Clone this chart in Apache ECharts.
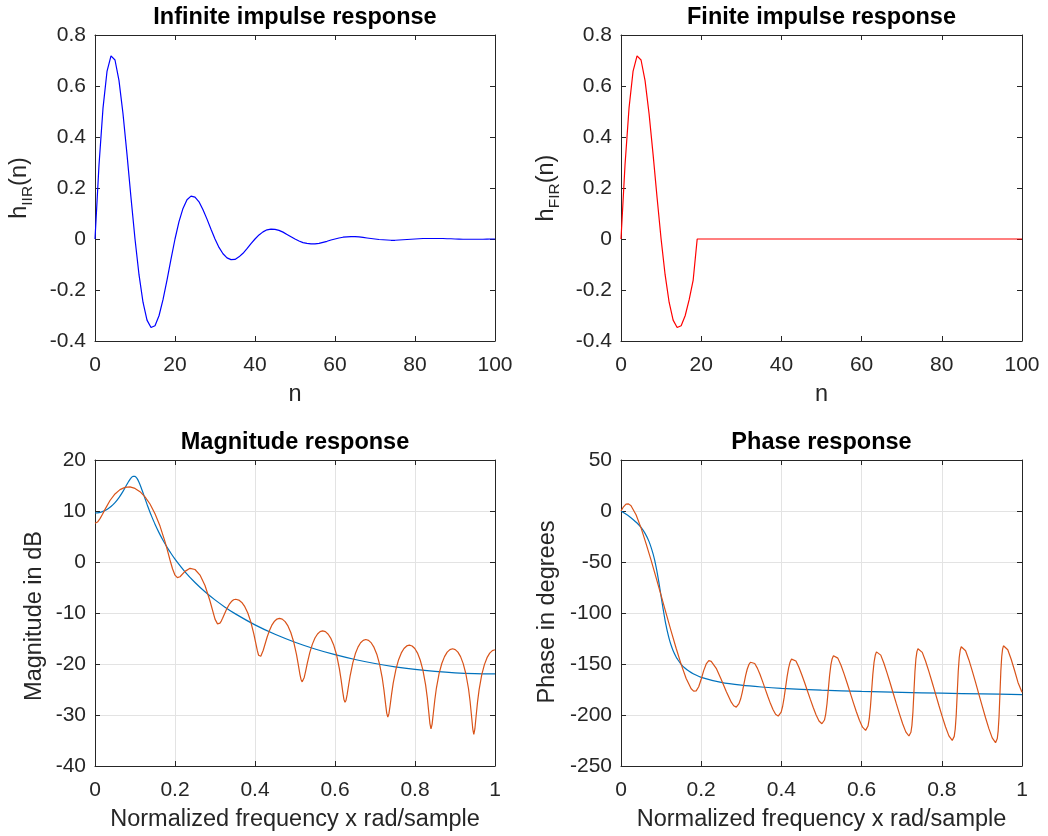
<!DOCTYPE html>
<html><head><meta charset="utf-8">
<script src="https://cdn.jsdelivr.net/npm/echarts@6/dist/echarts.min.js"></script>
<style>html,body{margin:0;padding:0;background:#fff}#c{width:1048px;height:836px}</style>
</head><body><div id="c"></div>
<script>
// ---- data ----
const hIIR = [0,0.290,0.513,0.657,0.718,0.702,0.621,0.491,0.332,0.162,
0,-0.140,-0.248,-0.318,-0.347,-0.340,-0.301,-0.238,-0.161,-0.079,
0,0.068,0.120,0.154,0.168,0.164,0.146,0.115,0.078,0.038,
0,-0.033,-0.058,-0.074,-0.081,-0.080,-0.070,-0.056,-0.038,-0.018,
0,0.016,0.028,0.036,0.039,0.038,0.034,0.027,0.018,0.009,
0,-0.008,-0.014,-0.017,-0.019,-0.019,-0.017,-0.013,-0.009,-0.004,
0,0.004,0.007,0.008,0.009,0.009,0.008,0.006,0.004,0.002,
0,-0.002,-0.003,-0.004,-0.005,-0.005,-0.004,-0.003,-0.002,-0.001,
0,0.001,0.002,0.002,0.002,0.002,0.002,0.002,0.001,0.001,
0,-0.0005,-0.001,-0.001,-0.001,-0.001,-0.001,-0.001,-0.0005,0,0];
const hFIR = [0,0.290,0.513,0.657,0.718,0.702,0.621,0.491,0.332,0.162,
0,-0.140,-0.248,-0.318,-0.347,-0.340,-0.301,-0.238,-0.161,0,
0,0,0,0,0,0,0,0,0,0, 0,0,0,0,0,0,0,0,0,0, 0,0,0,0,0,0,0,0,0,0,
0,0,0,0,0,0,0,0,0,0, 0,0,0,0,0,0,0,0,0,0, 0,0,0,0,0,0,0,0,0,0,
0,0,0,0,0,0,0,0,0,0, 0,0,0,0,0,0,0,0,0,0, 0];

const magIIRx = [0,.01,.02,.03,.04,.05,.06,.07,.08,.085,.09,.095,.1,.105,.11,.115,.12,.125,.13,.1375,.14,.15,.16,.17,.18,.1875,.2,.225,.25,.275,.3,.325,.35,.4,.45,.5,.55,.6,.65,.7,.75,.8,.85,.9,.95,1];
const magIIRy = [9.61,9.69,9.92,10.31,10.88,11.64,12.62,13.84,15.23,15.90,16.46,16.80,16.78,16.38,15.63,14.66,13.57,12.44,11.34,9.77,9.26,7.41,5.76,4.26,2.92,1.99,0.56,-1.92,-4.01,-5.83,-7.43,-8.85,-10.12,-12.33,-14.18,-15.73,-17.05,-18.17,-19.11,-19.90,-20.55,-21.06,-21.45,-21.74,-21.90,-21.95];

const magFIRx = [0,.00625,.0125,.01875,.025,.0375,.05,.0625,.075,.0875,.1,.1125,.125,.1375,.15,.1625,.175,.18125,.1875,.19375,.2,.206,.2125,.225,.2375,.25,.2625,.275,.2875,.3,.30625,.308,
.3102,.3124,.3157,.319,.3245,.330,.3355,.341,.3465,.352,
.3595,.367,.3745,.382,.3895,.397,.4015,.406,.409,.412,
.4145,.4169,.4206,.4243,.4304,.4365,.4426,.4488,.4549,.461,
.4681,.4753,.4824,.4895,.4966,.5038,.508,.5123,.5152,.518,
.5206,.5231,.5269,.5308,.5371,.5435,.5499,.5563,.5626,.569,
.576,.583,.59,.597,.604,.611,.6152,.6194,.6222,.625,
.6276,.6302,.6341,.638,.6445,.651,.6575,.664,.6705,.677,
.6839,.6908,.6976,.7045,.7114,.7183,.7224,.7265,.7293,.732,
.7347,.7374,.7415,.7455,.7523,.759,.7658,.7725,.7793,.786,
.7928,.7995,.8063,.813,.8198,.8265,.8306,.8346,.8373,.840,
.8427,.8454,.8495,.8535,.8603,.867,.8738,.8805,.8873,.894,
.9006,.9073,.9139,.9205,.9271,.9338,.9377,.9417,.9444,.947,
.9497,.9523,.9563,.9603,.9669,.9735,.9801,.9868,.9934,1];
const magFIRy = [7.59,7.83,8.51,9.37,10.32,12.06,13.34,14.19,14.64,14.72,14.43,13.79,12.78,11.37,9.47,7.04,4.00,2.22,0.39,-1.33,-2.58,-3.07,-2.89,-1.84,-1.24,-1.47,-2.56,-4.60,-7.65,-11.2,-12.13,-12.2,
-12.14,-11.98,-11.58,-11.04,-10.04,-9.09,-8.32,-7.75,-7.41,-7.3,
-7.46,-7.93,-8.76,-10.0,-11.74,-14.08,-15.77,-17.44,-18.28,-18.6,
-18.48,-18.13,-17.31,-16.33,-14.71,-13.36,-12.32,-11.61,-11.19,-11.05,
-11.21,-11.7,-12.54,-13.82,-15.63,-18.15,-20.03,-22.02,-23.08,-23.5,
-23.27,-22.64,-21.29,-19.85,-17.73,-16.1,-14.91,-14.11,-13.65,-13.5,
-13.66,-14.16,-15.03,-16.34,-18.23,-20.94,-23.06,-25.48,-26.9,-27.5,
-27.09,-26.07,-24.12,-22.26,-19.77,-17.96,-16.69,-15.84,-15.36,-15.2,
-15.36,-15.87,-16.75,-18.08,-20.02,-22.84,-25.13,-27.88,-29.62,-30.4,
-29.78,-28.35,-25.9,-23.76,-21.04,-19.15,-17.83,-16.96,-16.46,-16.3,
-16.47,-16.97,-17.86,-19.21,-21.19,-24.1,-26.53,-29.59,-31.69,-32.7,
-31.83,-29.95,-27.06,-24.71,-21.85,-19.9,-18.55,-17.67,-17.17,-17.0,
-17.17,-17.67,-18.56,-19.92,-21.91,-24.85,-27.31,-30.48,-32.7,-33.8,
-32.74,-30.59,-27.47,-25.02,-22.1,-20.12,-18.76,-17.87,-17.37,-17.2];

const phIIRx = [0,.01,.02,.03,.04,.05,.06,.07,.08,.085,.0875,.09,.095,.1,.105,.11,.1125,.115,.12,.125,.13,.1375,.14,.15,.16,.17,.18,.2,.25,.3,.35,.4,.5,.6,.7,.8,.9,1];
const phIIRy = [0,-2.55,-5.25,-8.27,-11.79,-16.13,-21.93,-30.02,-41.97,-50.07,-54.74,-59.86,-71.24,-83.63,-96.01,-107.38,-112.46,-117.11,-125.16,-131.68,-136.95,-143.12,-144.81,-150.26,-154.21,-157.22,-159.58,-163.05,-168.01,-170.77,-172.56,-173.86,-175.63,-176.86,-177.81,-178.61,-179.32,-180];

const phFIRx = [0,.00625,.0125,.01875,.025,.0375,.05,.0625,.075,.0875,.1,.1125,.125,.1375,.15,.1625,.175,.18125,.1875,.19375,.2,.206,.2125,
.219,.225,.2375,.25,.2625,.275,.281,.2875,
.2901,.2942,.2983,.3024,.3065,.3106,.3147,.3188,.3229,.327,
.3335,.340,.3465,.353,.3595,.366,.3725,.379,.3855,.392,
.3957,.3994,.4031,.4068,.4105,.4142,.4179,.4216,.4253,.429,
.4362,.4434,.4506,.4578,.465,.4722,.4794,.4866,.4938,.501,
.5042,.5074,.5106,.5138,.517,.5202,.5234,.5266,.5298,.533,
.5407,.5484,.5561,.5638,.5715,.5792,.5869,.5946,.6023,.610,
.613,.616,.619,.622,.625,.628,.631,.634,.637,.640,
.6478,.6556,.6634,.6712,.679,.6868,.6946,.7024,.7102,.718,
.7205,.723,.7255,.728,.7305,.733,.7355,.738,.7405,.743,
.7513,.7596,.7679,.7762,.7845,.7928,.8011,.8094,.8177,.826,
.8285,.831,.8335,.836,.8385,.841,.8435,.846,.8485,.851,
.8593,.8676,.8759,.8842,.8925,.9008,.9091,.9174,.9257,.934,
.9362,.9384,.9406,.9428,.945,.9472,.9494,.9516,.9538,.956,
.9645,.973,.9815,.99,1];
const phFIRy = [0,4.11,6.72,7.01,5.09,-3.72,-16.54,-31.97,-48.15,-65.31,-82.79,-100.34,-117.72,-134.56,-150.33,-164.22,-174.3,-176.65,-176.33,-172.26,-165.0,-156.77,-149.96,
-146.7,-147.37,-154.22,-165.11,-177.01,-187.41,-190.9,-192.25,
-191.19,-188.82,-184.37,-177.79,-169.75,-161.71,-155.13,-150.68,-148.31,-147.6,
-149.48,-154.03,-160.12,-167.04,-174.35,-181.66,-188.58,-194.67,-199.22,-201.1,
-200.19,-197.15,-191.44,-183.01,-172.7,-162.39,-153.96,-148.25,-145.21,-144.3,
-147.03,-152.92,-160.22,-168.19,-176.45,-184.71,-192.68,-199.98,-205.87,-208.6,
-207.82,-204.92,-198.88,-188.69,-174.85,-161.01,-150.82,-144.78,-141.88,-141.1,
-144.24,-151.02,-159.43,-168.6,-178.1,-187.6,-196.77,-205.18,-211.96,-215.1,
-214.2,-210.85,-203.88,-192.12,-176.15,-160.18,-148.42,-141.45,-138.1,-137.2,
-141.28,-149.26,-158.66,-168.66,-178.9,-189.14,-199.14,-208.54,-216.52,-220.6,
-219.82,-216.93,-210.15,-197.19,-177.4,-157.61,-144.65,-137.87,-134.98,-134.2,
-138.64,-147.31,-157.54,-168.42,-179.55,-190.68,-201.56,-211.79,-220.46,-224.9,
-224.07,-220.96,-213.7,-199.81,-178.6,-157.39,-143.5,-136.24,-133.13,-132.3,
-136.94,-146.01,-156.69,-168.06,-179.7,-191.34,-202.71,-213.39,-222.46,-227.1,
-226.24,-223.03,-215.51,-201.14,-179.2,-157.26,-142.89,-135.37,-132.16,-131.3,
-136.07,-145.38,-156.36,-168.04,-177.6];

const titles = ['Infinite impulse response','Finite impulse response','Magnitude response','Phase response'];
const xNames = ['n','n','Normalized frequency x rad/sample','Normalized frequency x rad/sample'];

// ---- layout ----
const FONT = '"Liberation Sans", Arial, Helvetica, sans-serif';
const AX = '#262626';
const TICK_FS = 21, NAME_FS = 23.5, TITLE_FS = 23.5, SUB_FS = 15.5;
const grids = [
  {left:95, top:35, width:400, height:306},
  {left:621, top:35, width:401, height:306},
  {left:95, top:460, width:400, height:306},
  {left:621, top:460, width:401, height:306}
];
const scales = [
  {x:[0,100,20], y:[-0.4,0.8,0.2], grid:false},
  {x:[0,100,20], y:[-0.4,0.8,0.2], grid:false},
  {x:[0,1,0.2], y:[-40,20,10], grid:true},
  {x:[0,1,0.2], y:[-250,50,50], grid:true}
];
const xAxes = [], yAxes = [];
scales.forEach((s, gi) => {
  const common = (r) => ({type:'value', gridIndex:gi, min:r[0], max:r[1], interval:r[2],
    axisLine:{show:true, onZero:false, lineStyle:{color:AX, width:1}},
    axisTick:{show:true, inside:true, length:5, lineStyle:{color:AX, width:1}}});
  xAxes.push(Object.assign(common(s.x), {position:'bottom',
    axisLabel:{show:true, color:AX, fontSize:TICK_FS, fontFamily:FONT, margin:14},
    splitLine:{show:s.grid, lineStyle:{color:'#e3e3e3', width:1}}}));
  xAxes.push(Object.assign(common(s.x), {position:'top', axisLabel:{show:false}, splitLine:{show:false}}));
  yAxes.push(Object.assign(common(s.y), {position:'left',
    axisLabel:{show:true, color:AX, fontSize:TICK_FS, fontFamily:FONT, margin:9},
    splitLine:{show:s.grid, lineStyle:{color:'#e3e3e3', width:1}}}));
  yAxes.push(Object.assign(common(s.y), {position:'right', axisLabel:{show:false}, splitLine:{show:false}}));
});
const zip = (xs, ys) => xs.map((x, i) => [x, ys[i]]);
const line = (gi, data, color, smooth) => ({type:'line', xAxisIndex:2*gi, yAxisIndex:2*gi, data,
  showSymbol:false, symbol:'none', smooth: smooth || false, lineStyle:{color, width:1.2}, clip:true, z:3});
const series = [
  line(0, hIIR.map((v,i)=>[i,v]), '#0000ff'),
  line(1, hFIR.map((v,i)=>[i,v]), '#ff0000'),
  line(2, zip(magIIRx, magIIRy), '#0072BD', 0.3),
  line(2, zip(magFIRx, magFIRy), '#D95319'),
  line(3, zip(phIIRx, phIIRy), '#0072BD', 0.3),
  line(3, zip(phFIRx, phFIRy), '#D95319')
];

// text measuring for subscripted labels
const mctx = document.createElement('canvas').getContext('2d');
function tw(t, size){ mctx.font = size + 'px ' + FONT; return mctx.measureText(t).width; }
const txt = (t, fs, extra) => Object.assign({text:t, fill:AX, font:fs + 'px ' + FONT, textAlign:'center', textVerticalAlign:'middle', verticalAlign:'middle'}, extra || {});

const graphic = [];
grids.forEach((g, gi) => {
  const cx = g.left + g.width/2;
  graphic.push({type:'text', x:cx, y: gi<2 ? 18 : 443, style:txt(titles[gi], TITLE_FS, {fill:'#000', font:'bold ' + TITLE_FS + 'px ' + FONT})});
  graphic.push({type:'text', x:cx, y: g.top + g.height + 54, style:txt(xNames[gi], NAME_FS)});
});
function subLabel(cx, cy, sub){
  const W1 = tw('h', NAME_FS), W2 = tw(sub, SUB_FS), W3 = tw('(n)', NAME_FS);
  const sx = -(W1 + W2 + W3)/2;
  return {type:'group', x:cx, y:cy, rotation:Math.PI/2, children:[
    {type:'text', x:sx, y:0, style:txt('h', NAME_FS, {textAlign:'left'})},
    {type:'text', x:sx+W1, y:8, style:txt(sub, SUB_FS, {textAlign:'left'})},
    {type:'text', x:sx+W1+W2, y:0, style:txt('(n)', NAME_FS, {textAlign:'left'})}
  ]};
}
graphic.push(subLabel(20, 188, 'IIR'));
graphic.push(subLabel(547, 188, 'FIR'));
graphic.push({type:'text', x:35, y:616, rotation:Math.PI/2, style:txt('Magnitude in dB', NAME_FS)});
graphic.push({type:'text', x:548, y:612, rotation:Math.PI/2, style:txt('Phase in degrees', NAME_FS)});

const chart = echarts.init(document.getElementById('c'), null, {renderer:'canvas'});
chart.setOption({
  animation:false,
  backgroundColor:'#fff',
  grid: grids.map(g => Object.assign({outerBoundsMode:'none', containLabel:false}, g)),
  xAxis:xAxes, yAxis:yAxes, series, graphic
});
</script></body></html>
